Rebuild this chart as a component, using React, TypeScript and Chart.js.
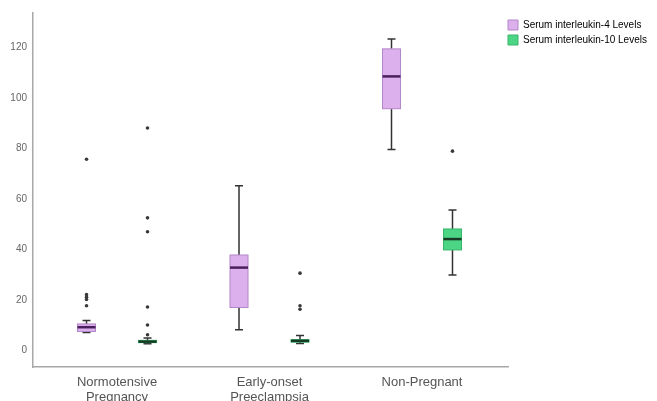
import React, { useEffect, useRef } from "react";
import { Chart, registerables } from "chart.js";

Chart.register(...registerables);

// ---------- data ----------
const categories: string[][] = [
  ["Normotensive", "Pregnancy"],
  ["Early-onset", "Preeclampsia"],
  ["Non-Pregnant"],
];
const seriesNames = ["Serum interleukin-4 Levels", "Serum interleukin-10 Levels"];

const il4Min = [7.2, 8.3, 79.7];
const il4Q1 = [7.6, 17.1, 95.8];
const il4Median = [9.3, 32.9, 108.6];
const il4Q3 = [10.6, 37.9, 119.5];
const il4Max = [12.0, 65.3, 123.4];
const il4Outliers = [[75.8, 22.2, 21.2, 20.3, 17.8], [], []];

const il10Min = [2.8, 2.9, 30.0];
const il10Q1 = [3.2, 3.4, 39.9];
const il10Median = [3.6, 3.9, 44.2];
const il10Q3 = [4.1, 4.4, 48.2];
const il10Max = [5.0, 6.0, 55.7];
const il10Outliers = [[88.2, 52.6, 47.1, 17.3, 10.2, 6.3], [30.7, 17.8, 16.4], [79.0]];

const yTicks = [0, 20, 40, 60, 80, 100, 120];

// ---------- styling / layout ----------
const seriesOffsets = [-0.2, 0.2];
const boxFill = ["#dcb0ec", "#4cd585"];
const boxBorder = ["#b387c8", "#37b56b"];
const medianColor = ["#4a1f5e", "#163a24"];
const BOX_W = 18;
const CAP_W = 8;
const LEGEND_W = 149;

const series = [
  { min: il4Min, q1: il4Q1, med: il4Median, q3: il4Q3, max: il4Max, out: il4Outliers },
  { min: il10Min, q1: il10Q1, med: il10Median, q3: il10Q3, max: il10Max, out: il10Outliers },
];

const boxPlugin = {
  id: "boxPlugin",
  beforeInit(chart: any) {
    const lg = chart.legend;
    if (lg) {
      const orig = lg.fit;
      lg.fit = function () {
        orig.call(this);
        this.width = LEGEND_W;
      };
    }
  },
  afterLayout(chart: any) {
    const lg = chart.legend;
    if (lg) {
      lg.left -= 5;
      lg.right -= 5;
      lg.top += 2;
      lg.bottom += 2;
    }
  },
  beforeDatasetsDraw(chart: any) {
    const ctx = chart.ctx;
    const xs = chart.scales.x;
    const ys = chart.scales.y;
    ctx.save();
    series.forEach((s, si) => {
      categories.forEach((_, i) => {
        const x = xs.getPixelForValue(i + seriesOffsets[si]);
        const yMin = ys.getPixelForValue(s.min[i]);
        const yQ1 = ys.getPixelForValue(s.q1[i]);
        const yMed = ys.getPixelForValue(s.med[i]);
        const yQ3 = ys.getPixelForValue(s.q3[i]);
        const yMax = ys.getPixelForValue(s.max[i]);
        // whiskers
        ctx.strokeStyle = "#333333";
        ctx.lineWidth = 1.5;
        ctx.beginPath();
        ctx.moveTo(x, yQ3);
        ctx.lineTo(x, yMax);
        ctx.moveTo(x, yQ1);
        ctx.lineTo(x, yMin);
        ctx.moveTo(x - CAP_W / 2, yMax);
        ctx.lineTo(x + CAP_W / 2, yMax);
        ctx.moveTo(x - CAP_W / 2, yMin);
        ctx.lineTo(x + CAP_W / 2, yMin);
        ctx.stroke();
        // box
        ctx.fillStyle = boxFill[si];
        ctx.fillRect(x - BOX_W / 2, yQ3, BOX_W, yQ1 - yQ3);
        ctx.strokeStyle = boxBorder[si];
        ctx.lineWidth = 1;
        ctx.strokeRect(x - BOX_W / 2, yQ3, BOX_W, yQ1 - yQ3);
        // median
        ctx.strokeStyle = medianColor[si];
        ctx.lineWidth = 2.5;
        ctx.beginPath();
        ctx.moveTo(x - BOX_W / 2, yMed);
        ctx.lineTo(x + BOX_W / 2, yMed);
        ctx.stroke();
      });
    });
    ctx.restore();
  },
};

export default function App() {
  const ref = useRef<HTMLCanvasElement | null>(null);
  useEffect(() => {
    if (!ref.current) return;
    const datasets = series.map((s, si) => ({
      label: seriesNames[si],
      data: s.out.flatMap((vals, i) => vals.map((v) => ({ x: i + seriesOffsets[si], y: v }))),
      backgroundColor: "#3a3a3a",
      borderColor: "#3a3a3a",
      borderWidth: 0,
      pointRadius: 1.8,
      pointHoverRadius: 1.8,
      showLine: false,
    }));
    const chart = new Chart(ref.current, {
      type: "scatter",
      data: { datasets },
      plugins: [boxPlugin],
      options: {
        responsive: false,
        animation: false,
        devicePixelRatio: 1,
        layout: { padding: { top: 13, left: 0, right: 0, bottom: 0 } },
        plugins: {
          tooltip: { enabled: false },
          legend: {
            position: "right",
            align: "start",
            labels: {
              boxWidth: 10,
              boxHeight: 10,
              padding: 5,
              color: "#555555",
              font: { family: "'Liberation Sans', Arial, sans-serif", size: 10 },
              generateLabels: () =>
                seriesNames.map((n, i) => ({
                  text: n,
                  fillStyle: boxFill[i],
                  strokeStyle: boxBorder[i],
                  lineWidth: 1,
                  datasetIndex: i,
                  hidden: false,
                })),
            },
          },
        },
        scales: {
          x: {
            type: "linear",
            min: -0.551,
            max: 2.564,
            afterBuildTicks: (s: any) => {
              s.ticks = categories.map((_, i) => ({ value: i }));
            },
            afterFit: (s: any) => {
              s.height = 34;
            },
            grid: { display: false, drawTicks: false },
            border: { display: true, color: "#a8a8a8", width: 1.5 },
            ticks: {
              autoSkip: false,
              maxRotation: 0,
              padding: 8,
              color: "#555555",
              font: { family: "'Liberation Sans', Arial, sans-serif", size: 13, lineHeight: 1.15 },
              callback: (v: any) => categories[Math.round(Number(v))] as any,
            },
          },
          y: {
            type: "linear",
            min: -6.45,
            max: 133.7,
            afterBuildTicks: (s: any) => {
              s.ticks = yTicks.map((v) => ({ value: v }));
            },
            afterFit: (s: any) => {
              s.width = 33;
            },
            grid: { display: false, drawTicks: false },
            border: { display: true, color: "#a8a8a8", width: 1.5 },
            ticks: {
              padding: 6,
              color: "#666666",
              font: { family: "'Liberation Sans', Arial, sans-serif", size: 10 },
            },
          },
        },
      },
    } as any);
    return () => chart.destroy();
  }, []);
  return (
    <div style={{ position: "fixed", left: 0, top: 0, width: 657, height: 401, background: "#fff" }}>
      <canvas ref={ref} width={657} height={401} style={{ display: "block" }} />
    </div>
  );
}
